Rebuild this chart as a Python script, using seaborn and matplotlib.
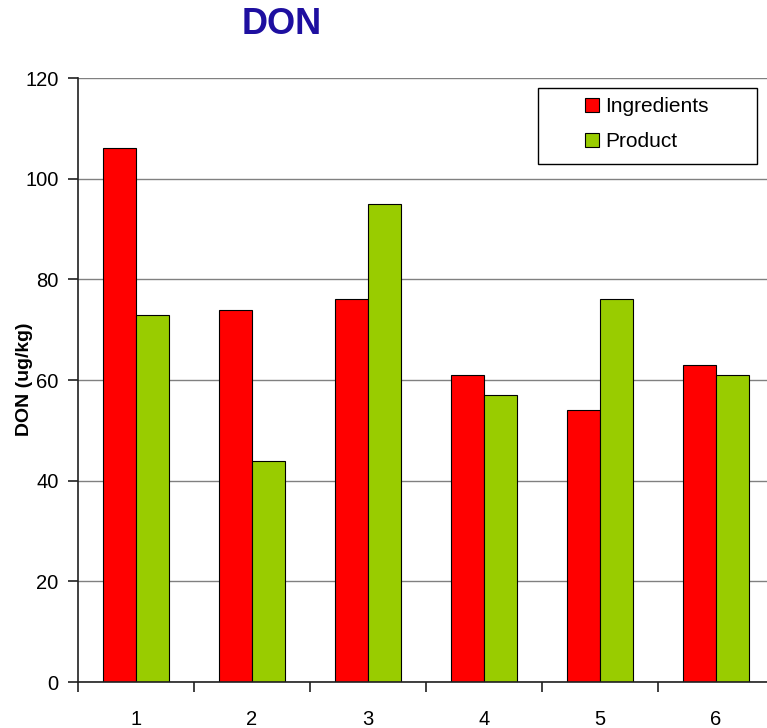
import matplotlib
matplotlib.use("Agg")
import matplotlib.pyplot as plt
from matplotlib.patches import Rectangle
import seaborn as sns
import pandas as pd
import numpy as np

categories = ["1", "2", "3", "4", "5", "6"]
ingredients = [106, 74, 76, 61, 54, 63]
product = [73, 44, 95, 57, 76, 61]
series_names = ["Ingredients", "Product"]

df = pd.DataFrame({
    "cat": categories * 2,
    "val": ingredients + product,
    "series": [series_names[0]] * 6 + [series_names[1]] * 6,
})

sns.set_theme(style="white")
plt.rcParams['font.family'] = ['Liberation Sans', 'DejaVu Sans']

W, H = 767, 728
fig = plt.figure(figsize=(W / 100, H / 100), dpi=100)
ax = fig.add_axes([78 / W, 1 - 682 / H, 696 / W, 604 / H])

sns.barplot(data=df, x="cat", y="val", hue="series", order=categories,
            hue_order=series_names, palette=["#FF0000", "#99CC00"],
            width=0.57, edgecolor="black", linewidth=0.8, ax=ax,
            saturation=1, dodge=True)

ax.set_ylim(0, 120)
ax.set_xlim(-0.5, 5.5)
ax.set_yticks(np.arange(0, 121, 20))
ax.yaxis.grid(True, color="#808080", linewidth=1)
ax.set_axisbelow(True)
for s in ["top", "right"]:
    ax.spines[s].set_visible(False)
for s in ["left", "bottom"]:
    ax.spines[s].set_color("#202020")
    ax.spines[s].set_linewidth(1.2)

ax.set_xticks(range(6))
ax.set_xticklabels(categories)
ax.set_xticks(np.arange(-0.5, 5.6, 1), minor=True)
ax.tick_params(axis="x", which="major", length=0, pad=20, labelsize=14.5, labelcolor="black")
ax.tick_params(axis="x", which="minor", length=7, width=1.2, color="#202020", direction="out", bottom=True)
ax.tick_params(axis="y", which="major", length=7, width=1.2, color="#202020", direction="out", left=True,
               labelsize=14.5, pad=7, labelcolor="black")

ax.set_xlabel("")
ax.set_ylabel("DON (ug/kg)", fontsize=14, fontweight="bold", color="black")
ax.yaxis.set_label_coords((33 - 78) / 696, (682 - 379) / 604)

# legend box
box = Rectangle((538 / W, 1 - 164 / H), 219 / W, 76 / H, transform=fig.transFigure,
                facecolor="white", edgecolor="black", linewidth=1, zorder=4.5, clip_on=False)
ax.add_patch(box)

leg = ax.legend(loc="upper left", bbox_to_anchor=(585 / W, 1 - 97 / H),
                bbox_transform=fig.transFigure,
                frameon=False, fontsize=15, handlelength=0.67,
                handleheight=0.67, borderpad=0, labelspacing=0.78,
                borderaxespad=0, handletextpad=0.3)
leg.set_zorder(5)
for t in leg.get_texts():
    t.set_color("black")

fig.text(282 / W, 1 - 24 / H, "DON", ha="center", va="center",
         fontsize=26, fontweight="bold", color="#1E0FA0")

fig.savefig("out.png", dpi=100)
